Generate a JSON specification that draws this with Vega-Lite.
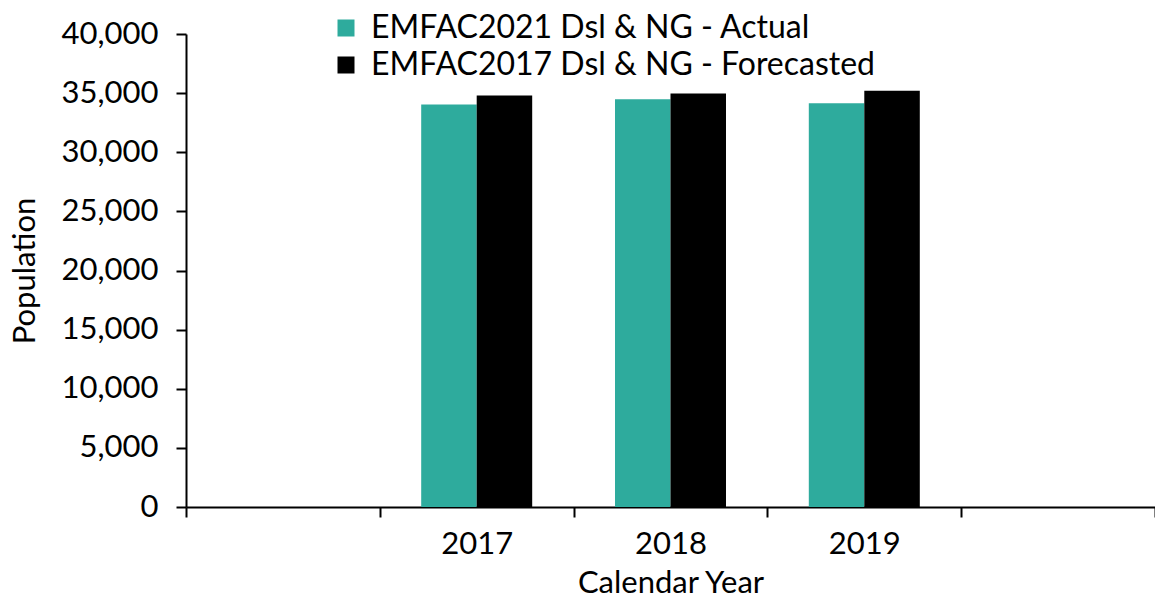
{
  "$schema": "https://vega.github.io/schema/vega-lite/v6.json",
  "autosize": {"type": "none"},
  "padding": {"left": 186, "top": 34, "right": 0, "bottom": 94},
  "width": 969,
  "height": 473,
  "background": "white",
  "config": {
    "view": {"stroke": null},
    "font": "Lato",
    "axis": {"labelFont": "Lato", "titleFont": "Lato", "labelColor": "black", "titleColor": "black", "domainColor": "black", "tickColor": "black", "domainWidth": 2, "tickWidth": 2, "grid": false, "titleFontWeight": "normal", "labelFontSize": 31, "titleFontSize": 31, "tickSize": 10}
  },
  "data": {
    "values": [
      {"year": "2017", "series": "EMFAC2021 Dsl & NG - Actual", "population": 34030},
      {"year": "2017", "series": "EMFAC2017 Dsl & NG - Forecasted", "population": 34790},
      {"year": "2018", "series": "EMFAC2021 Dsl & NG - Actual", "population": 34480},
      {"year": "2018", "series": "EMFAC2017 Dsl & NG - Forecasted", "population": 34960},
      {"year": "2019", "series": "EMFAC2021 Dsl & NG - Actual", "population": 34140},
      {"year": "2019", "series": "EMFAC2017 Dsl & NG - Forecasted", "population": 35210}
    ]
  },
  "mark": {"type": "bar"},
  "encoding": {
    "x": {
      "field": "year",
      "type": "nominal",
      "scale": {"domain": ["_1", "2017", "2018", "2019", "_2"], "paddingInner": 0, "paddingOuter": 0},
      "axis": {"title": "Calendar Year", "labelAngle": 0, "tickBand": "extent", "labelPadding": 12, "titlePadding": 9, "labelExpr": "substring(datum.label, 0, 1) == '_' ? '' : datum.label"}
    },
    "xOffset": {
      "field": "series",
      "type": "nominal",
      "scale": {"domain": ["EMFAC2021 Dsl & NG - Actual", "EMFAC2017 Dsl & NG - Forecasted"], "paddingInner": 0, "paddingOuter": 0.746}
    },
    "y": {
      "field": "population",
      "type": "quantitative",
      "scale": {"domain": [0, 40000], "nice": false},
      "axis": {"title": "Population", "values": [0, 5000, 10000, 15000, 20000, 25000, 30000, 35000, 40000], "format": ",.0f", "labelPadding": 18, "titlePadding": 20}
    },
    "color": {
      "field": "series",
      "type": "nominal",
      "scale": {"domain": ["EMFAC2021 Dsl & NG - Actual", "EMFAC2017 Dsl & NG - Forecasted"], "range": ["#2EAB9D", "#000000"]},
      "legend": {"title": null, "orient": "none", "legendX": 144, "legendY": -22, "symbolType": "square", "symbolSize": 289, "symbolStrokeWidth": 0, "labelFontSize": 32, "labelFont": "Lato", "labelColor": "black", "labelOffset": 9, "rowPadding": 5, "labelLimit": 800}
    }
  }
}
